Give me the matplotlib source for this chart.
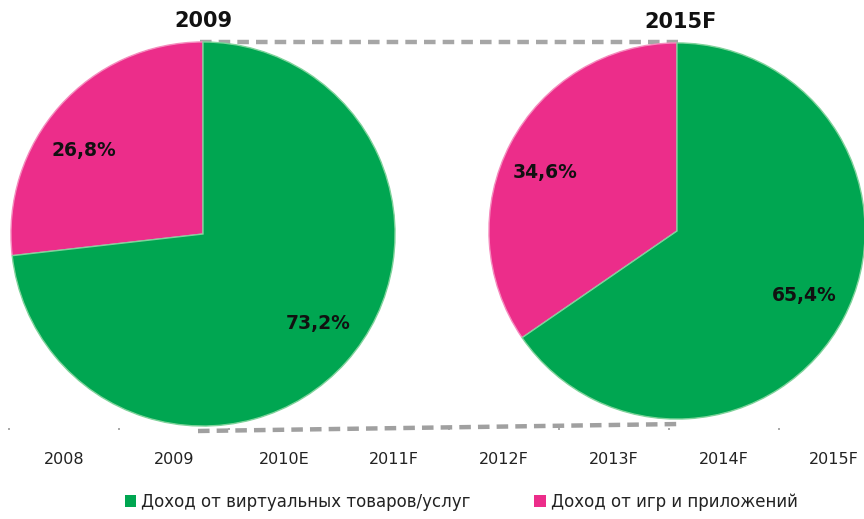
import matplotlib
matplotlib.use("Agg")
import matplotlib.pyplot as plt
import numpy as np
from matplotlib.patches import Patch

# ---- data ----
series_names = ["Доход от виртуальных товаров/услуг", "Доход от игр и приложений"]
pie_titles = ["2009", "2015F"]
share_virtual = [73.2, 65.4]
share_games = [26.8, 34.6]
years = ["2008", "2009", "2010E", "2011F", "2012F", "2013F", "2014F", "2015F"]

GREEN = "#00A651"
PINK = "#EC2D8A"
W, H = 864, 519

fig = plt.figure(figsize=(W / 100, H / 100), dpi=100)
fig.patch.set_facecolor("white")

def px_axes(x, y, w, h, **kw):
    # x, y = top-left in pixels
    return fig.add_axes([x / W, 1 - (y + h) / H, w / W, h / H], **kw)

# category axis
cax = px_axes(9, 300, 880, 128, zorder=0.5)
cax.set_facecolor("none")
cax.set_xlim(-0.5, len(years) - 0.5)
cax.set_ylim(0, 1)
cax.set_xticks(range(len(years)), labels=years, fontsize=11.5, color="#222222")
cax.set_xticks(np.arange(len(years) + 1) - 0.5, minor=True)
cax.tick_params(axis="x", which="major", length=0, pad=17)
cax.tick_params(axis="x", which="minor", length=1.5, color="#999999", width=1.2)
cax.set_yticks([])
for s in cax.spines.values():
    s.set_visible(False)

# overlay for connecting dashed lines (pixel coords)
ov = px_axes(0, 0, W, H, zorder=1)
ov.set_facecolor("none")
ov.set_xlim(0, W); ov.set_ylim(H, 0); ov.axis("off")
ov.plot([200, 678], [42, 42], ls=(0, (2.6, 1.6)), color="#A6A6A6", lw=3.2, solid_capstyle="butt")
ov.plot([198, 680], [431, 424], ls=(0, (2.6, 1.6)), color="#A0A0A0", lw=3.2, solid_capstyle="butt")

# pies: (left, top, size in px), label positions (radius frac, angle deg)
pie_boxes = [(10, 41, 386), (488, 42, 378)]
label_pos = [[(0.76, -38), (0.76, 145)], [(0.76, -27), (0.765, 156)]]
title_pos = [(0.0, 1.055), (0.02, 1.06)]

for i in range(2):
    x, y, s = pie_boxes[i]
    ax = px_axes(x, y, s, s, zorder=2)
    vals = [share_games[i], share_virtual[i]]
    wedges, _ = ax.pie(vals, colors=[PINK, GREEN], startangle=90, counterclock=True,
                       radius=1, center=(0, 0),
                       wedgeprops=dict(edgecolor="#7FD39B", linewidth=1.0))
    wedges[0].set_edgecolor("#F58CBE")
    ax.set_xlim(-1.005, 1.005); ax.set_ylim(-1.005, 1.005)
    ax.set_aspect("equal")
    ax.axis("off")
    for v, (r, a) in zip([share_virtual[i], share_games[i]], label_pos[i]):
        t = np.deg2rad(a)
        ax.text(r * np.cos(t), r * np.sin(t), f"{v:.1f}%".replace(".", ","),
                ha="center", va="center", fontsize=13.5, fontweight="bold", color="#111111")
    ax.text(title_pos[i][0], title_pos[i][1], pie_titles[i], ha="center", va="bottom",
            fontsize=15, fontweight="bold", color="#111111", transform=ax.transData,
            clip_on=False)

# legend
handles = [Patch(facecolor=GREEN, edgecolor="none"), Patch(facecolor=PINK, edgecolor="none")]
fig.legend(handles, series_names, loc="center", bbox_to_anchor=(461 / W, 1 - 502 / H),
           ncol=2, frameon=False, fontsize=12, handlelength=0.7, handleheight=0.7,
           handletextpad=0.3, columnspacing=3.8, labelcolor="#222222")

fig.savefig("out.png", dpi=100)
